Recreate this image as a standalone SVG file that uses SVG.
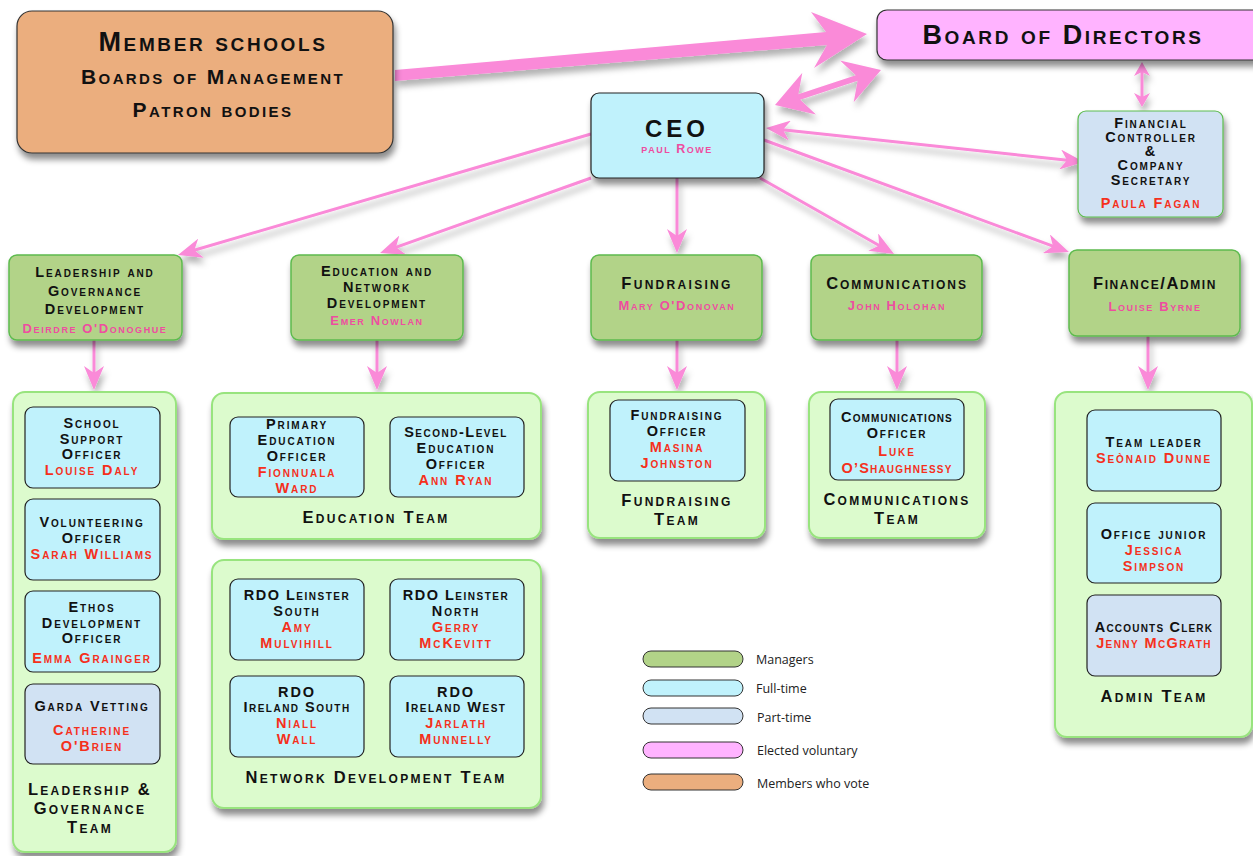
<svg xmlns="http://www.w3.org/2000/svg" width="1253" height="856" viewBox="0 0 1253 856">
<defs>
<style>
.t{font-family:"Liberation Sans",Arial,sans-serif;font-weight:bold;font-variant:small-caps;text-anchor:middle;fill:#111;}
.s{font-size:14.5px;letter-spacing:1.9px;}
.p{font-size:13px;letter-spacing:1.6px;}
.m{font-size:16.5px;letter-spacing:2.3px;}
.big{font-size:27px;letter-spacing:2.6px;}
.mid{font-size:21px;letter-spacing:2.4px;}
.n{fill:#F5301C;}
.pn{fill:#EE4DA0;}
.mgr{fill:#B2D388;stroke:#5DBB4E;stroke-width:1.5;}
.team{fill:#DCFBCD;stroke:#98E47E;stroke-width:2;}
.ft{fill:#C0F2FC;stroke:#222;stroke-width:1.2;}
.pt{fill:#D1E2F3;stroke:#222;stroke-width:1.2;}
.con{stroke:#FA8AD8;stroke-width:3;fill:none;}
.lg{font-family:"Open Sans","Liberation Sans",sans-serif;font-size:12.5px;fill:#222;}
</style>
<filter id="sh" x="-20%" y="-20%" width="150%" height="160%"><feDropShadow dx="2" dy="6" stdDeviation="3" flood-color="#000" flood-opacity="0.45"/></filter>
<filter id="sh2" x="-20%" y="-50%" width="150%" height="250%"><feDropShadow dx="2" dy="6" stdDeviation="3" flood-color="#000" flood-opacity="0.3"/></filter>
<marker id="ah" viewBox="0 0 24 20" refX="17" refY="10" markerWidth="24" markerHeight="20" markerUnits="userSpaceOnUse" orient="auto-start-reverse"><path d="M0,0 L24,10 L0,20 L7,10 z" fill="#FA8AD8"/></marker>
<marker id="ahs" viewBox="0 0 14 16" refX="9" refY="8" markerWidth="14" markerHeight="16" markerUnits="userSpaceOnUse" orient="auto-start-reverse"><path d="M0,0 L14,8 L0,16 L4,8 z" fill="#FA8AD8"/></marker>
<marker id="ahb" viewBox="0 0 36 44" refX="28" refY="22" markerWidth="36" markerHeight="44" markerUnits="userSpaceOnUse" orient="auto-start-reverse"><path d="M0,0 L36,22 L0,44 L12,22 z" fill="#FA8AD8"/></marker>
</defs>
<rect width="1253" height="856" fill="#fff"/>

<g id="connectors" filter="url(#sh2)">
<polygon points="395,70 826,32 811,12 867,34 814,68 827,45 395,81" fill="#FA8AD8"/>
<line class="con" x1="782.6" y1="102.5" x2="873.4" y2="72.5" style="stroke-width:6" marker-start="url(#ahb)" marker-end="url(#ahb)"/>
<line class="con" x1="1142" y1="67" x2="1142" y2="102" marker-start="url(#ahs)" marker-end="url(#ahs)"/>
<line class="con" x1="773" y1="128.7" x2="1077" y2="161.3" marker-start="url(#ah)" marker-end="url(#ah)"/>
<line class="con" x1="591" y1="134" x2="184.7" y2="253" marker-end="url(#ah)"/>
<line class="con" x1="591" y1="178" x2="386.6" y2="250.7" marker-end="url(#ah)"/>
<line class="con" x1="677" y1="178" x2="677" y2="246" marker-end="url(#ah)"/>
<line class="con" x1="760" y1="178" x2="888" y2="250.5" marker-end="url(#ah)"/>
<line class="con" x1="764" y1="140" x2="1062.4" y2="249.6" marker-end="url(#ah)"/>
<line class="con" x1="94" y1="340" x2="94" y2="383" marker-end="url(#ah)"/>
<line class="con" x1="377" y1="340" x2="377" y2="383" marker-end="url(#ah)"/>
<line class="con" x1="677" y1="340" x2="677" y2="383" marker-end="url(#ah)"/>
<line class="con" x1="897" y1="340" x2="897" y2="383" marker-end="url(#ah)"/>
<line class="con" x1="1148" y1="336" x2="1148" y2="383" marker-end="url(#ah)"/>
</g>

<g id="member-schools">
<rect x="17" y="11" width="376" height="142" rx="15" fill="#EBAE7E" stroke="#333" stroke-width="1.2" filter="url(#sh)"/>
<text class="t big" x="213" y="51">Member schools</text>
<text class="t mid" x="213" y="84">Boards of Management</text>
<text class="t mid" x="213" y="117">Patron bodies</text>
</g>

<g id="board">
<rect x="877" y="10" width="390" height="50" rx="10" fill="#FFB3FF" stroke="#333" stroke-width="1.2" filter="url(#sh)"/>
<text class="t big" x="1063" y="44">Board of Directors</text>
</g>

<g id="ceo">
<rect x="591" y="93" width="173" height="85" rx="8" class="ft" filter="url(#sh)"/>
<text class="t" x="677" y="137" style="font-size:24px;letter-spacing:4px">CEO</text>
<text class="t pn" x="677" y="153" style="font-size:12.5px;letter-spacing:1.5px">paul Rowe</text>
</g>

<g id="financial-controller">
<rect x="1078" y="111" width="145" height="106" rx="8" fill="#D1E2F3" stroke="#5DBB4E" stroke-width="1.2" filter="url(#sh)"/>
<text class="t s" x="1151" y="128">Financial</text>
<text class="t s" x="1151" y="142">Controller</text>
<text class="t s" x="1151" y="156">&amp;</text>
<text class="t s" x="1151" y="170">Company</text>
<text class="t s" x="1151" y="185">Secretary</text>
<text class="t s n" x="1151" y="208">Paula Fagan</text>
</g>

<g id="mgr-leadership">
<rect x="9" y="255" width="173" height="85" rx="8" class="mgr" filter="url(#sh)"/>
<text class="t s" x="95" y="277">Leadership and</text>
<text class="t s" x="95" y="296">Governance</text>
<text class="t s" x="95" y="314">Development</text>
<text class="t p pn" x="95" y="333">Deirdre O'Donoghue</text>
</g>

<g id="mgr-education">
<rect x="291" y="255" width="172" height="85" rx="8" class="mgr" filter="url(#sh)"/>
<text class="t s" x="377" y="276">Education and</text>
<text class="t s" x="377" y="292">Network</text>
<text class="t s" x="377" y="308">Development</text>
<text class="t p pn" x="377" y="325">Emer Nowlan</text>
</g>

<g id="mgr-fundraising">
<rect x="591" y="255" width="171" height="85" rx="8" class="mgr" filter="url(#sh)"/>
<text class="t m" x="677" y="289">Fundraising</text>
<text class="t p pn" x="677" y="310">Mary O'Donovan</text>
</g>

<g id="mgr-communications">
<rect x="811" y="255" width="171" height="85" rx="8" class="mgr" filter="url(#sh)"/>
<text class="t m" x="897" y="289" style="letter-spacing:1.9px">Communications</text>
<text class="t p pn" x="897" y="310">John Holohan</text>
</g>

<g id="mgr-finance">
<rect x="1069" y="250" width="171" height="86" rx="8" class="mgr" filter="url(#sh)"/>
<text class="t m" x="1155" y="289" style="letter-spacing:1.6px">Finance/Admin</text>
<text class="t p pn" x="1155" y="311">Louise Byrne</text>
</g>

<g id="team-leadership">
<rect x="13" y="392" width="163" height="460" rx="12" class="team" filter="url(#sh)"/>
<rect x="25" y="407" width="135" height="81" rx="8" class="ft"/>
<text class="t s" x="92" y="428">School</text>
<text class="t s" x="92" y="444">Support</text>
<text class="t s" x="92" y="459">Officer</text>
<text class="t s n" x="92" y="475">Louise Daly</text>
<rect x="25" y="499" width="135" height="81" rx="8" class="ft"/>
<text class="t s" x="92" y="527">Volunteering</text>
<text class="t s" x="92" y="543">Officer</text>
<text class="t s n" x="92" y="559">Sarah Williams</text>
<rect x="25" y="591" width="135" height="81" rx="8" class="ft"/>
<text class="t s" x="92" y="612">Ethos</text>
<text class="t s" x="92" y="628">Development</text>
<text class="t s" x="92" y="643">Officer</text>
<text class="t s n" x="92" y="663">Emma Grainger</text>
<rect x="25" y="684" width="135" height="80" rx="8" class="pt"/>
<text class="t s" x="92" y="711">Garda Vetting</text>
<text class="t s n" x="92" y="735">Catherine</text>
<text class="t s n" x="92" y="751">O'Brien</text>
<text class="t m" x="90" y="795">Leadership &amp;</text>
<text class="t m" x="90" y="814">Governance</text>
<text class="t m" x="90" y="833">Team</text>
</g>

<g id="team-education">
<rect x="212" y="393" width="329" height="146" rx="12" class="team" filter="url(#sh)"/>
<rect x="230" y="417" width="134" height="80" rx="8" class="ft"/>
<text class="t s" x="297" y="429">Primary</text>
<text class="t s" x="297" y="445">Education</text>
<text class="t s" x="297" y="461">Officer</text>
<text class="t s n" x="297" y="477">Fionnuala</text>
<text class="t s n" x="297" y="493">Ward</text>
<rect x="390" y="417" width="134" height="80" rx="8" class="ft"/>
<text class="t s" x="456" y="437" style="letter-spacing:1.5px">Second-Level</text>
<text class="t s" x="456" y="453">Education</text>
<text class="t s" x="456" y="469">Officer</text>
<text class="t s n" x="456" y="485">Ann Ryan</text>
<text class="t m" x="376" y="523">Education Team</text>
</g>

<g id="team-network">
<rect x="212" y="560" width="329" height="248" rx="12" class="team" filter="url(#sh)"/>
<rect x="230" y="579" width="134" height="81" rx="8" class="ft"/>
<text class="t s" x="297" y="600" style="letter-spacing:1.5px">RDO Leinster</text>
<text class="t s" x="297" y="616">South</text>
<text class="t s n" x="297" y="632">Amy</text>
<text class="t s n" x="297" y="648">Mulvihill</text>
<rect x="390" y="579" width="134" height="81" rx="8" class="ft"/>
<text class="t s" x="456" y="600" style="letter-spacing:1.5px">RDO Leinster</text>
<text class="t s" x="456" y="616">North</text>
<text class="t s n" x="456" y="632">Gerry</text>
<text class="t s n" x="456" y="648">McKevitt</text>
<rect x="230" y="676" width="134" height="81" rx="8" class="ft"/>
<text class="t s" x="297" y="697">RDO</text>
<text class="t s" x="297" y="712" style="letter-spacing:1.5px">Ireland South</text>
<text class="t s n" x="297" y="728">Niall</text>
<text class="t s n" x="297" y="744">Wall</text>
<rect x="390" y="676" width="134" height="81" rx="8" class="ft"/>
<text class="t s" x="456" y="697">RDO</text>
<text class="t s" x="456" y="712" style="letter-spacing:1.5px">Ireland West</text>
<text class="t s n" x="456" y="728">Jarlath</text>
<text class="t s n" x="456" y="744">Munnelly</text>
<text class="t m" x="376" y="783">Network Development Team</text>
</g>

<g id="team-fundraising">
<rect x="588" y="392" width="177" height="146" rx="12" class="team" filter="url(#sh)"/>
<rect x="610" y="400" width="135" height="81" rx="8" class="ft"/>
<text class="t s" x="677" y="420">Fundraising</text>
<text class="t s" x="677" y="436">Officer</text>
<text class="t s n" x="677" y="452">Masina</text>
<text class="t s n" x="677" y="468">Johnston</text>
<text class="t m" x="677" y="506">Fundraising</text>
<text class="t m" x="677" y="525">Team</text>
</g>

<g id="team-communications">
<rect x="809" y="392" width="176" height="146" rx="12" class="team" filter="url(#sh)"/>
<rect x="830" y="399" width="134" height="81" rx="8" class="ft"/>
<text class="t s" x="897" y="422" style="letter-spacing:1.1px">Communications</text>
<text class="t s" x="897" y="438">Officer</text>
<text class="t s n" x="897" y="456">Luke</text>
<text class="t s n" x="897" y="473" style="letter-spacing:1.2px">O’Shaughnessy</text>
<text class="t m" x="897" y="505">Communications</text>
<text class="t m" x="897" y="524">Team</text>
</g>

<g id="team-admin">
<rect x="1055" y="392" width="197" height="345" rx="12" class="team" filter="url(#sh)"/>
<rect x="1087" y="410" width="134" height="81" rx="8" class="ft"/>
<text class="t s" x="1154" y="447">Team leader</text>
<text class="t s n" x="1154" y="463">Seònaid Dunne</text>
<rect x="1087" y="503" width="134" height="80" rx="8" class="ft"/>
<text class="t s" x="1154" y="539">Office junior</text>
<text class="t s n" x="1154" y="555">Jessica</text>
<text class="t s n" x="1154" y="571">Simpson</text>
<rect x="1087" y="595" width="134" height="81" rx="8" class="pt"/>
<text class="t s" x="1154" y="632" style="letter-spacing:1.2px">Accounts Clerk</text>
<text class="t s n" x="1154" y="648" style="letter-spacing:1.4px">Jenny McGrath</text>
<text class="t m" x="1154" y="702">Admin Team</text>
</g>

<g id="legend">
<rect x="643" y="651" width="100" height="16" rx="8" fill="#B2D388" stroke="#333"/>
<text class="lg" x="756" y="664">Managers</text>
<rect x="643" y="680" width="100" height="16" rx="8" fill="#C0F2FC" stroke="#333"/>
<text class="lg" x="756" y="693">Full-time</text>
<rect x="643" y="708" width="100" height="16" rx="8" fill="#D1E2F3" stroke="#333"/>
<text class="lg" x="757" y="722">Part-time</text>
<rect x="643" y="742" width="100" height="16" rx="8" fill="#FFB3FF" stroke="#333"/>
<text class="lg" x="757" y="755">Elected voluntary</text>
<rect x="643" y="774" width="100" height="16" rx="8" fill="#EBAE7E" stroke="#333"/>
<text class="lg" x="757" y="788">Members who vote</text>
</g>
</svg>
